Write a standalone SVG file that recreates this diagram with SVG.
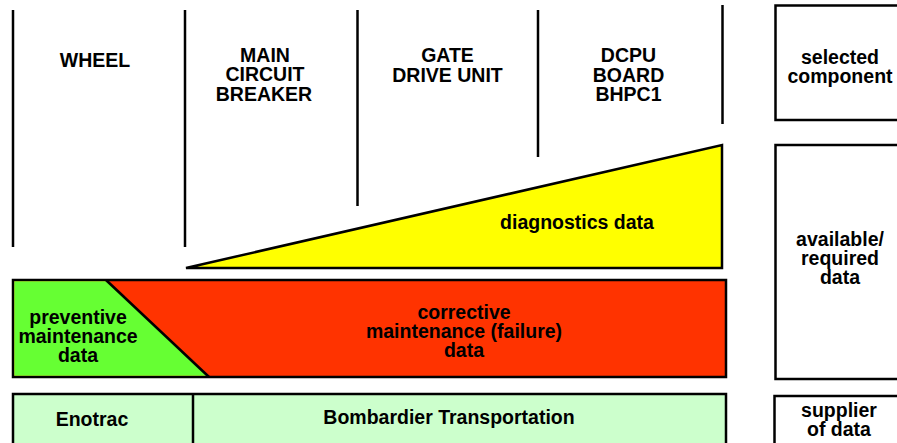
<svg xmlns="http://www.w3.org/2000/svg" width="897" height="443" viewBox="0 0 897 443">
  <style>
    .t { font-family: "Liberation Sans", Arial, sans-serif; font-weight: bold; font-size: 19.5px; fill: #000; text-anchor: middle; }
    .sep { stroke: #000; stroke-width: 2.5; fill: none; }
    .box { stroke: #000; stroke-width: 2.5; }
  </style>
  <rect width="897" height="443" fill="#fff"/>

  <!-- component columns -->
  <g id="columns">
    <line class="sep" x1="13" y1="10" x2="13" y2="247"/>
    <line class="sep" x1="185" y1="10" x2="185" y2="247"/>
    <line class="sep" x1="357.5" y1="10" x2="357.5" y2="206"/>
    <line class="sep" x1="538" y1="10" x2="538" y2="157"/>
    <line class="sep" x1="722.5" y1="5" x2="722.5" y2="124"/>
  </g>
  <g id="wheel">
    <text class="t" x="95" y="66.5">WHEEL</text>
  </g>
  <g id="main-circuit-breaker">
    <text class="t" x="265" y="61.5">MAIN</text>
    <text class="t" x="265" y="81">CIRCUIT</text>
    <text class="t" x="264" y="100.5">BREAKER</text>
  </g>
  <g id="gate-drive-unit">
    <text class="t" x="447.5" y="62">GATE</text>
    <text class="t" x="447.5" y="81.5">DRIVE UNIT</text>
  </g>
  <g id="dcpu-board">
    <text class="t" x="628.5" y="62">DCPU</text>
    <text class="t" x="628.5" y="81.5">BOARD</text>
    <text class="t" x="628.5" y="101">BHPC1</text>
  </g>

  <!-- diagnostics wedge -->
  <g id="diagnostics">
    <polygon class="box" fill="#ffff00" points="186,268 722,145 722,268"/>
    <text class="t" x="577" y="229">diagnostics data</text>
  </g>

  <!-- maintenance band -->
  <g id="maintenance">
    <rect class="box" fill="#ff3300" x="13" y="280" width="713" height="97"/>
    <polygon fill="#66ff33" points="14.25,281.25 106,281.25 208,375.75 14.25,375.75"/>
    <line class="sep" x1="106" y1="280" x2="209" y2="377"/>
    <text class="t" x="78" y="323.5">preventive</text>
    <text class="t" x="78" y="342.5">maintenance</text>
    <text class="t" x="78" y="361.5">data</text>
    <text class="t" x="464" y="318.5">corrective</text>
    <text class="t" x="464" y="338">maintenance (failure)</text>
    <text class="t" x="464" y="357">data</text>
  </g>

  <!-- suppliers -->
  <g id="suppliers">
    <rect class="box" fill="#ccffcc" x="13" y="394" width="713" height="60"/>
    <line class="sep" x1="193" y1="394" x2="193" y2="443"/>
    <text class="t" x="92" y="426">Enotrac</text>
    <text class="t" x="449" y="423.5">Bombardier Transportation</text>
  </g>

  <!-- legend -->
  <g id="legend-component">
    <rect class="box" fill="#fff" x="775.5" y="5.5" width="140" height="114.5"/>
    <text class="t" x="840" y="63.5">selected</text>
    <text class="t" x="840" y="82.5">component</text>
  </g>
  <g id="legend-data">
    <rect class="box" fill="#fff" x="775.5" y="145" width="140" height="234"/>
    <text class="t" x="840" y="245.5">available/</text>
    <text class="t" x="840" y="264.5">required</text>
    <text class="t" x="840" y="283.5">data</text>
  </g>
  <g id="legend-supplier">
    <rect class="box" fill="#fff" x="774.5" y="396" width="140" height="60"/>
    <text class="t" x="839" y="417">supplier</text>
    <text class="t" x="839" y="436">of data</text>
  </g>
</svg>
